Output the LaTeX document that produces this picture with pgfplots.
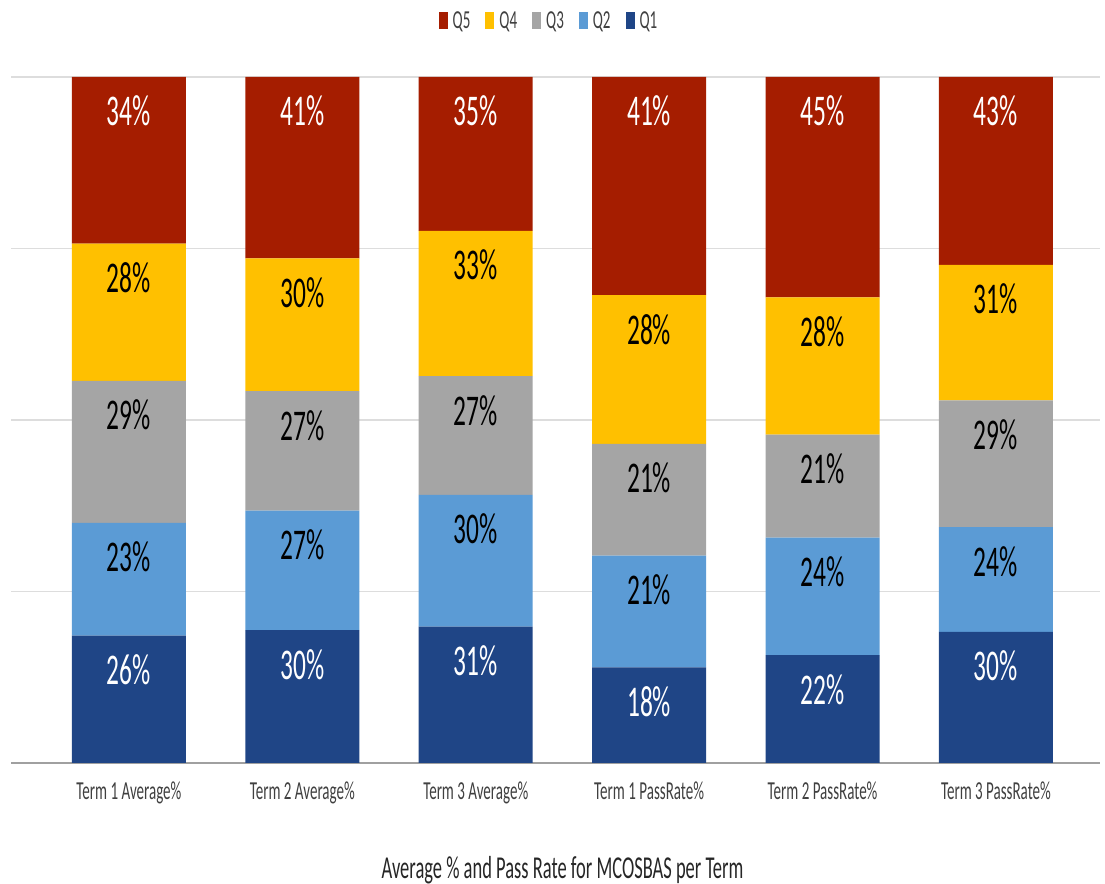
\documentclass[border=0pt]{standalone}
\usepackage{fontspec}
\setmainfont[FakeStretch=0.58]{Carlito}
\usepackage{pgfplots}
\usepackage{pgfplotstable}
\pgfplotsset{compat=1.18}

\definecolor{cQ1}{HTML}{1F4586}
\definecolor{cQ2}{HTML}{5B9BD5}
\definecolor{cQ3}{HTML}{A5A5A5}
\definecolor{cQ4}{HTML}{FFC000}
\definecolor{cQ5}{HTML}{A51D00}
\definecolor{gridc}{HTML}{DDDDDD}
\definecolor{axisc}{HTML}{A0A0A0}
\definecolor{labc}{HTML}{404040}

% q1..q5: share of each bar (values rescaled to 100), l1..l5: printed labels
\pgfplotstableread{
x q1     q2     q3     q4     q5     l1 l2 l3 l4 l5
0 18.571 16.429 20.714 20.000 24.286 26 23 29 28 34
1 19.355 17.419 17.419 19.355 26.452 30 27 27 30 41
2 19.872 19.231 17.308 21.154 22.435 31 30 27 33 35
3 13.953 16.279 16.279 21.705 31.784 18 21 21 28 41
4 15.714 17.143 15.000 20.000 32.143 22 24 21 28 45
5 19.108 15.287 18.471 19.745 27.389 30 24 29 31 43
}\data

\begin{document}
\begin{tikzpicture}
\useasboundingbox (0,0) rectangle (1105bp,884bp);
\begin{axis}[
    at={(11bp,121bp)}, anchor=south west,
    scale only axis, width=1089bp, height=686bp,
    ybar stacked, bar width=114bp,
    legend image code/.code={\fill[#1] (0bp,-8bp) rectangle (9bp,9bp);},
    xmin=-0.68, xmax=5.6, ymin=0, ymax=100,
    xtick=data,
    xticklabels={Term 1 Average\%, Term 2 Average\%, Term 3 Average\%,
                 Term 1 PassRate\%, Term 2 PassRate\%, Term 3 PassRate\%},
    xticklabel style={font=\fontsize{26}{26}\selectfont, text=labc,
                      anchor=base, yshift=-36bp},
    x tick style={draw=none},
    ytick={0,25,50,75,100}, yticklabels={},
    y tick style={draw=none},
    ymajorgrids, grid style={draw=gridc, line width=1.5bp},
    axis x line*=bottom, axis y line*=left,
    x axis line style={draw=axisc, line width=2bp, -},
    y axis line style={draw=none},
    xlabel={Average \% and Pass Rate for MCOSBAS per Term},
    xlabel style={at={(axis description cs:0.5,0)}, anchor=base,
                  yshift=-115bp, xshift=7bp,
                  font=\fontsize{32}{32}\selectfont, text=black!85},
    point meta=explicit symbolic,
    nodes near coords={\pgfplotspointmeta\%},
    % labels sit near the top of each segment (6.86bp per unit, half = 3.43bp)
    every node near coord/.append style={anchor=base,
        yshift={\hh*3.43bp-49bp},
        font=\fontsize{44}{44}\selectfont, text=white},
    reverse legend, legend columns=-1,
    legend style={at={(axis description cs:0.5,1)}, anchor=center,
        yshift=56bp, xshift=-5bp, draw=none,
        font=\fontsize{26}{26}\selectfont, text=labc,
        nodes={inner xsep=5bp},
        /tikz/every even column/.append style={column sep=10bp}},
]
\addplot[fill=cQ1, draw=none, visualization depends on={\thisrow{q1}\as\hh}]
    table[x=x, y=q1, meta=l1] {\data};
\addplot[fill=cQ2, draw=none, visualization depends on={\thisrow{q2}\as\hh},
    every node near coord/.append style={text=black}]
    table[x=x, y=q2, meta=l2] {\data};
\addplot[fill=cQ3, draw=none, visualization depends on={\thisrow{q3}\as\hh},
    every node near coord/.append style={text=black}]
    table[x=x, y=q3, meta=l3] {\data};
\addplot[fill=cQ4, draw=none, visualization depends on={\thisrow{q4}\as\hh},
    every node near coord/.append style={text=black}]
    table[x=x, y=q4, meta=l4] {\data};
\addplot[fill=cQ5, draw=none, visualization depends on={\thisrow{q5}\as\hh}]
    table[x=x, y=q5, meta=l5] {\data};
\legend{Q1,Q2,Q3,Q4,Q5}
\end{axis}
\end{tikzpicture}
\end{document}
